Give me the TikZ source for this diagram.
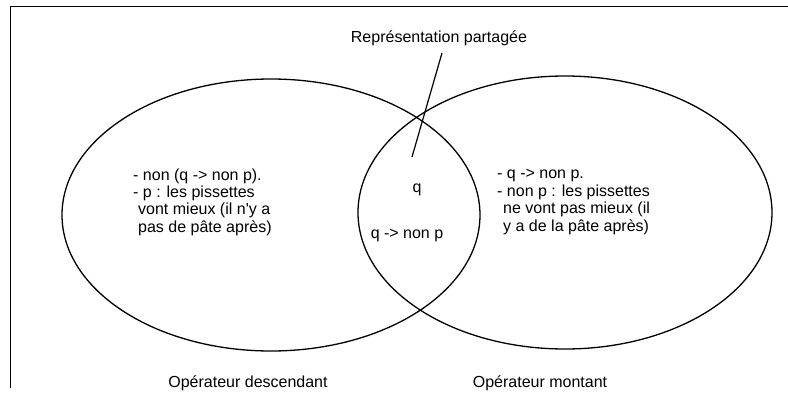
\documentclass[tikz,border=0pt]{standalone}
\usepackage{fontspec}
\setmainfont{Liberation Sans}
\usetikzlibrary{shapes.geometric}
\begin{document}
\begin{tikzpicture}[x=1pt,y=-1pt,
  txt/.style={font=\fontsize{16}{17}\selectfont, inner sep=0pt},
  ell/.style={draw, ellipse, line width=1.3pt, inner sep=0pt}]
\useasboundingbox (0,0) rectangle (788,394);
\draw[line width=1pt] (788,6) -- (10,6) -- (10,388);
\node[ell, minimum width=418pt, minimum height=272pt] (L) at (271,215) {};
\node[ell, minimum width=414pt, minimum height=273pt] (R) at (565,212.5) {};
\node[txt] (rp) at (439,38) {Représentation partagée};
\coordinate (p1) at (442,53);
\coordinate (p2) at (412,157);
\draw[line width=1.2pt] (p1) -- (p2);
% left block
\node[txt, anchor=base west] (l1) at (133,180) {- non (q -> non p).};
\node[txt, anchor=base west] (l2) at (133,197) {- p : les pissettes};
\node[txt, anchor=base west] (l3) at (138,214) {vont mieux (il n\textquotesingle y a};
\node[txt, anchor=base west] (l4) at (138,232) {pas de pâte après)};
% middle
\node[txt] (m1) at (417,190) {q};
\node[txt] (m2) at (407,235) {q -> non p};
% right block
\node[txt, anchor=base west] (r1) at (497,178) {- q -> non p.};
\node[txt, anchor=base west] (r2) at (497,196) {- non p : les pissettes};
\node[txt, anchor=base west] (r3) at (503,213) {ne vont pas mieux (il};
\node[txt, anchor=base west] (r4) at (503,231) {y a de la pâte après)};
% bottom labels
\node[txt] (od) at (248,383) {Opérateur descendant};
\node[txt] (om) at (540,383) {Opérateur montant};
\end{tikzpicture}
\end{document}
